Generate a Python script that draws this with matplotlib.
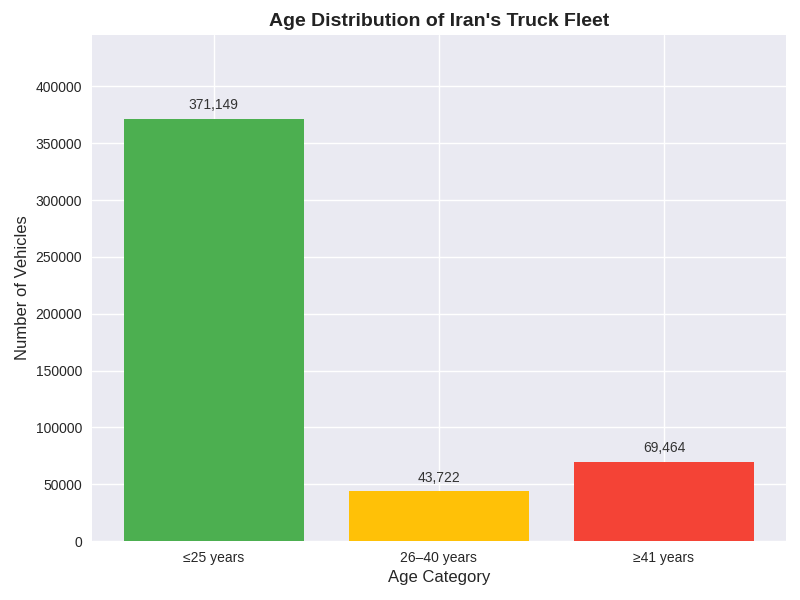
import matplotlib
matplotlib.use("Agg")
import matplotlib.pyplot as plt

categories = ["≤25 years", "26–40 years", "≥41 years"]
values = [371149, 43722, 69464]
colors = ["#4CAF50", "#FFC107", "#F44336"]

plt.style.use("seaborn-v0_8")
plt.rcParams['font.family'] = ['Liberation Sans', 'DejaVu Sans']
fig, ax = plt.subplots(figsize=(8, 6), dpi=100)
fig.subplots_adjust(left=0.115, right=0.982, top=0.942, bottom=0.098)
bars = ax.bar(categories, values, color=colors)
for b, v in zip(bars, values):
    ax.text(b.get_x() + b.get_width()/2, v + 6000, f"{v:,}", ha="center", va="bottom", fontsize=10, color="#333333")
ax.set_ylim(0, max(values) * 1.2)
ax.set_title("Age Distribution of Iran's Truck Fleet", fontsize=14, fontweight="bold", color="#222222")
ax.set_xlabel("Age Category", fontsize=12)
ax.set_ylabel("Number of Vehicles", fontsize=12)
fig.savefig("out.png")
